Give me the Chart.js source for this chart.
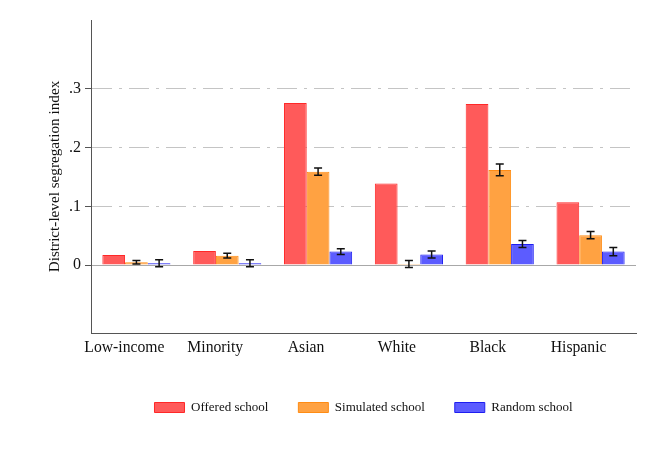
<!DOCTYPE html>
<html>
<head>
<meta charset="utf-8">
<script src="https://cdn.jsdelivr.net/npm/chart.js@4/dist/chart.umd.min.js"></script>
<style>
  html, body { margin: 0; padding: 0; background: #fff; }
  #wrap { width: 650px; height: 467px; }
</style>
</head>
<body>
<div id="wrap"><canvas id="chart"></canvas></div>
<script>
// groups on the x axis
const groups = ["Low-income", "Minority", "Asian", "White", "Black", "Hispanic"]

// segregation index per school assignment
const offered = [0.017, 0.024, 0.276, 0.139, 0.274, 0.107]
const simulated = [0.005, 0.016, 0.159, 0.002, 0.162, 0.051]
const random = [0.003, 0.003, 0.023, 0.018, 0.036, 0.023]

// half-width of the confidence intervals (offered has none)
const simulatedErr = [0.003, 0.004, 0.006, 0.006, 0.010, 0.006]
const randomErr = [0.006, 0.006, 0.005, 0.006, 0.006, 0.007]

const yTicks = [0, 0.1, 0.2, 0.3]
const yMin = -0.1155
const yMax = 0.417

const serif = "'Liberation Serif', 'Times New Roman', serif"

// draws the I-shaped error bars on top of the bars
const errorBars = {
    id: "errorBars",
    afterDatasetsDraw(chart) {
        const ctx = chart.ctx
        const y = chart.scales.y
        ctx.save()
        ctx.strokeStyle = "#111"
        ctx.lineWidth = 1.5
        chart.data.datasets.forEach((ds, di) => {
            if (!ds.errors) return
            const meta = chart.getDatasetMeta(di)
            meta.data.forEach((bar, i) => {
                const v = ds.data[i]
                const e = ds.errors[i]
                const top = y.getPixelForValue(v + e)
                const bot = y.getPixelForValue(v - e)
                const x = bar.x
                ctx.beginPath()
                ctx.moveTo(x, top); ctx.lineTo(x, bot)
                ctx.moveTo(x - 4, top); ctx.lineTo(x + 4, top)
                ctx.moveTo(x - 4, bot); ctx.lineTo(x + 4, bot)
                ctx.stroke()
            })
        })
        ctx.restore()
    },
}

// centre the legend under the plot area instead of the whole canvas
const legendUnderPlot = {
    id: "legendUnderPlot",
    afterLayout(chart) {
        const lg = chart.legend
        if (!lg) return
        const shift = chart.chartArea.left - lg.left
        lg.left += shift
        lg.right = chart.chartArea.right
    },
}

new Chart(document.getElementById("chart"), {
    type: "bar",
    data: {
        labels: groups,
        datasets: [
            {
                label: "Offered school",
                data: offered,
                backgroundColor: "rgba(255, 90, 90, 1)",
                borderColor: "rgba(255, 40, 40, 1)",
                borderWidth: 1,
            },
            {
                label: "Simulated school",
                data: simulated,
                errors: simulatedErr,
                backgroundColor: "rgba(255, 162, 66, 1)",
                borderColor: "rgba(255, 140, 20, 1)",
                borderWidth: 1,
            },
            {
                label: "Random school",
                data: random,
                errors: randomErr,
                backgroundColor: "rgba(92, 92, 255, 1)",
                borderColor: "rgba(30, 30, 240, 1)",
                borderWidth: 1,
            },
        ],
    },
    options: {
        responsive: true,
        maintainAspectRatio: false,
        animation: false,
        devicePixelRatio: 1,
        categoryPercentage: 0.75,
        barPercentage: 1.0,
        layout: { padding: { left: 46, right: 14, top: 20, bottom: 43 } },
        scales: {
            x: {
                grid: { display: false, drawTicks: false },
                border: { display: true, color: "#555", width: 1 },
                ticks: {
                    color: "#111",
                    font: { family: serif, size: 15.7 },
                    padding: 5,
                    labelOffset: -12,
                },
                afterFit: (s) => { s.height = 38 },
            },
            y: {
                min: yMin,
                max: yMax,
                afterBuildTicks: (s) => { s.ticks = yTicks.map((v) => ({ value: v })) },
                afterFit: (s) => { s.width = 45 },
                grid: {
                    color: (c) => (c.tick && c.tick.value === 0 ? "#a8a8a8" : "#c4c4c4"),
                    lineWidth: 1,
                    tickColor: "#555",
                    tickLength: 6,
                },
                border: {
                    display: true,
                    color: "#555",
                    width: 1,
                    dash: (c) => (c.tick && c.tick.value !== 0 ? [20, 7, 3, 7] : []),
                },
                ticks: {
                    color: "#111",
                    padding: 4,
                    font: { family: serif, size: 16 },
                    callback: (v) => (v === 0 ? "0" : String(+v.toFixed(1)).replace(/^0/, "")),
                },
                title: {
                    display: true,
                    text: "District-level segregation index",
                    color: "#111",
                    font: { family: serif, size: 15.2 },
                    padding: { top: 0, bottom: 0 },
                },
            },
        },
        plugins: {
            legend: {
                display: true,
                position: "bottom",
                labels: {
                    boxWidth: 30,
                    boxHeight: 10,
                    padding: 30,
                    color: "#111",
                    font: { family: serif, size: 13 },
                },
            },
            tooltip: { enabled: false },
        },
    },
    plugins: [errorBars, legendUnderPlot],
})
</script>
</body>
</html>
